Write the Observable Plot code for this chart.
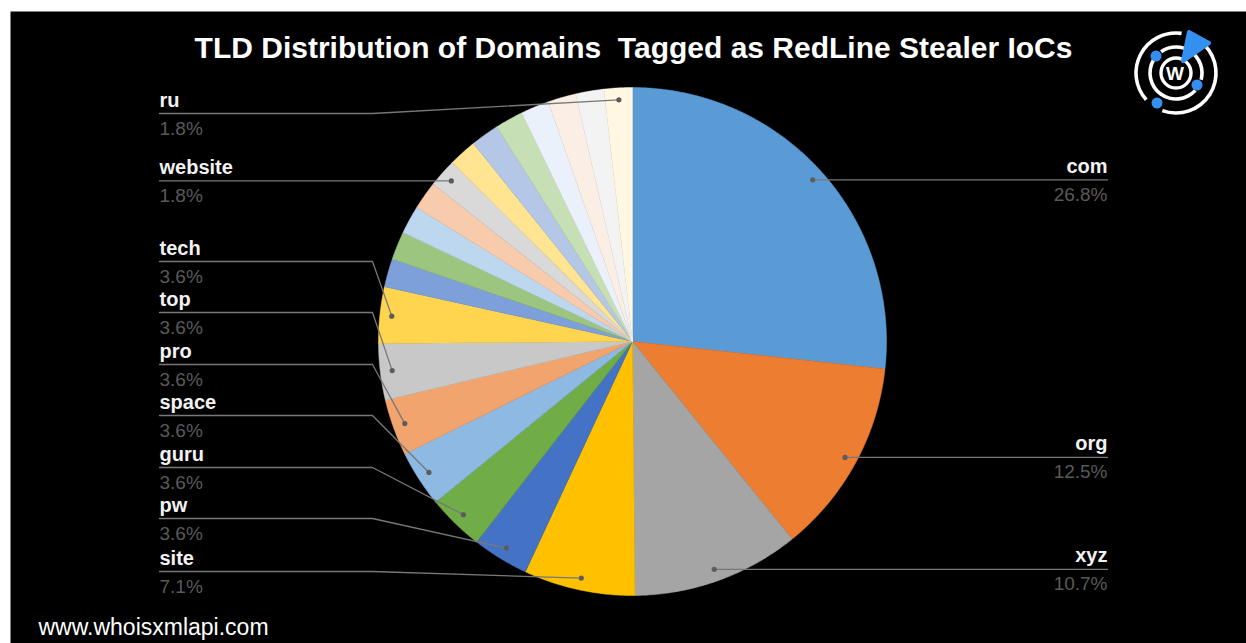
<!DOCTYPE html>
<html><head><meta charset="utf-8">
<script src="https://cdn.jsdelivr.net/npm/d3@7"></script>
<script src="https://cdn.jsdelivr.net/npm/@observablehq/plot@0.6"></script>
<style>html,body{margin:0;padding:0;background:#fff;} #chart svg{display:block}</style>
</head><body><div id="chart"></div>
<script>
// ---- data ----
const tlds = ["com","org","xyz","site","pw","guru","space","pro","top","tech",
  "tld-11","tld-12","tld-13","tld-14","website","tld-16","tld-17","tld-18","tld-19","tld-20","tld-21","ru"];
const shares = [26.8,12.5,10.7,7.1,3.6,3.6,3.6,3.6,3.6,3.6,
  1.8,1.8,1.8,1.8,1.8,1.8,1.8,1.8,1.8,1.8,1.8,1.8];
const labeledTlds = ["com","org","xyz","site","pw","guru","space","pro","top","tech","website","ru"];
const palette = ["#5B9BD5","#ED7D31","#A5A5A5","#FFC000","#4472C4","#70AD47","#8DB9E3","#F2A46E","#C8C8C8","#FFD44F",
  "#7D9FDA","#9CC57F","#BDD7EE","#F8CBAD","#D9D9D9","#FFE491","#B4C7E7","#C6DFB4","#EAF1FA","#FBEEE4","#F3F3F3","#FFF7E1"];
const titleText = "TLD Distribution of Domains  Tagged as RedLine Stealer IoCs";
const footerText = "www.whoisxmlapi.com";

// ---- layout (pixels) ----
const W = 1246, H = 643, CX = 632, CY = 341, R = 254;
const toX = px => (px - CX) / R, toY = py => (CY - py) / R;
const leftLineY = {ru:113, tech:261, top:312, pro:364, space:415, guru:467, pw:518, site:571};
const LEFT_X = 159, ELBOW_X = 372, RIGHT_X = 1107, DOT_R = 0.953;

// ---- geometry from data ----
const total = d3.sum(shares);
let cum = 0;
const slices = tlds.map((name, i) => {
  const a0 = cum / total * 2 * Math.PI; cum += shares[i];
  const a1 = cum / total * 2 * Math.PI;
  return {name, value: shares[i], a0, a1, mid: (a0 + a1) / 2};
});
const piePts = [];
for (const s of slices) {
  piePts.push({name: s.name, x: 0, y: 0});
  const n = Math.max(2, Math.ceil((s.a1 - s.a0) / (Math.PI / 360)));
  for (let k = 0; k <= n; k++) {
    const a = s.a0 + (s.a1 - s.a0) * k / n;
    piePts.push({name: s.name, x: Math.sin(a), y: Math.cos(a)});
  }
  piePts.push({name: s.name, x: 0, y: 0});
}
const labels = slices.filter(s => labeledTlds.includes(s.name)).map(s => {
  const dx = DOT_R * Math.sin(s.mid), dy = DOT_R * Math.cos(s.mid);
  const right = s.mid < Math.PI;
  const dotPy = CY - dy * R;
  const lineY = right ? dotPy : (leftLineY[s.name] ?? dotPy);
  const pts = right
    ? [{x: dx, y: dy}, {x: toX(RIGHT_X), y: toY(lineY)}]
    : [{x: toX(LEFT_X), y: toY(lineY)}, {x: toX(ELBOW_X), y: toY(lineY)}, {x: dx, y: dy}];
  return {name: s.name, pct: s.value.toFixed(1) + "%", right, dx, dy, lineY, pts};
});
const leaderPts = labels.flatMap(l => l.pts.map(p => ({name: l.name, ...p})));
const leftL = labels.filter(l => !l.right), rightL = labels.filter(l => l.right);

const font = "Liberation Sans, Arial, Helvetica, sans-serif";
const chart = Plot.plot({
  width: W, height: H,
  marginTop: 11, marginLeft: 10, marginRight: 0, marginBottom: 0,
  style: {background: "#fff", fontFamily: font, overflow: "visible"},
  x: {domain: [-1, 1], range: [CX - R, CX + R], axis: null},
  y: {domain: [-1, 1], range: [CY + R, CY - R], axis: null},
  color: {domain: tlds, range: palette},
  marks: [
    Plot.frame({fill: "#000", stroke: "none"}),
    Plot.line(piePts, {x: "x", y: "y", z: "name", fill: "name", stroke: "name", strokeWidth: 0.5, curve: "linear"}),
    Plot.line(leaderPts, {x: "x", y: "y", z: "name", stroke: "#787878", strokeWidth: 1.3, curve: "linear"}),
    Plot.dot(labels, {x: "dx", y: "dy", r: 2.6, fill: "#5c5c5c", stroke: "none"}),
    Plot.text(leftL, {x: () => toX(LEFT_X), y: d => toY(d.lineY - 7), text: "name", textAnchor: "start", lineAnchor: "bottom", fontSize: 20, fontWeight: "bold", fill: "#f2f2f2"}),
    Plot.text(leftL, {x: () => toX(LEFT_X), y: d => toY(d.lineY + 21), text: "pct", textAnchor: "start", lineAnchor: "bottom", fontSize: 19, fill: "#5a5a5a"}),
    Plot.text(rightL, {x: () => toX(RIGHT_X), y: d => toY(d.lineY - 7), text: "name", textAnchor: "end", lineAnchor: "bottom", fontSize: 20, fontWeight: "bold", fill: "#f2f2f2"}),
    Plot.text(rightL, {x: () => toX(RIGHT_X), y: d => toY(d.lineY + 21), text: "pct", textAnchor: "end", lineAnchor: "bottom", fontSize: 19, fill: "#5a5a5a"}),
    Plot.text([titleText], {x: () => toX(633), y: () => toY(57), text: d => d, textAnchor: "middle", lineAnchor: "bottom", fontSize: 30, fontWeight: "bold", fill: "#ffffff"}),
    Plot.text([footerText], {x: () => toX(38), y: () => toY(634), text: d => d, textAnchor: "start", lineAnchor: "bottom", fontSize: 23, fill: "#ffffff"})
  ]
});
document.getElementById("chart").appendChild(chart);

// ---- logo (decoration) ----
const svg = d3.select(chart);
const g = svg.append("g").attr("transform", "translate(1176,73)");
const blue = "#3490F0";
const ring = (r, w, segs) => segs.forEach(([s, e]) => g.append("path")
  .attr("d", d3.arc()({innerRadius: r - w / 2, outerRadius: r + w / 2, startAngle: s * Math.PI / 180, endAngle: e * Math.PI / 180}))
  .attr("fill", "#fff"));
ring(40, 3.6, [[45, 200], [228, 368]]);
ring(26, 3.6, [[-35, 105], [132, 300]]);
g.append("circle").attr("r", 15).attr("fill", "none").attr("stroke", "#fff").attr("stroke-width", 3.4);
g.append("text").attr("x", -1).attr("y", 7).attr("text-anchor", "middle").attr("font-family", font)
  .attr("font-weight", "bold").attr("font-size", 19).attr("fill", "#fff").text("W");
g.append("path").attr("d", "M7,-12 L13,-41 L33,-30 Z").attr("fill", blue).attr("stroke", blue)
  .attr("stroke-width", 4).attr("stroke-linejoin", "round");
[[-20, -17], [21, 12], [-19, 30]].forEach(([x, y]) => g.append("circle").attr("cx", x).attr("cy", y).attr("r", 5.5).attr("fill", blue));
</script></body></html>
